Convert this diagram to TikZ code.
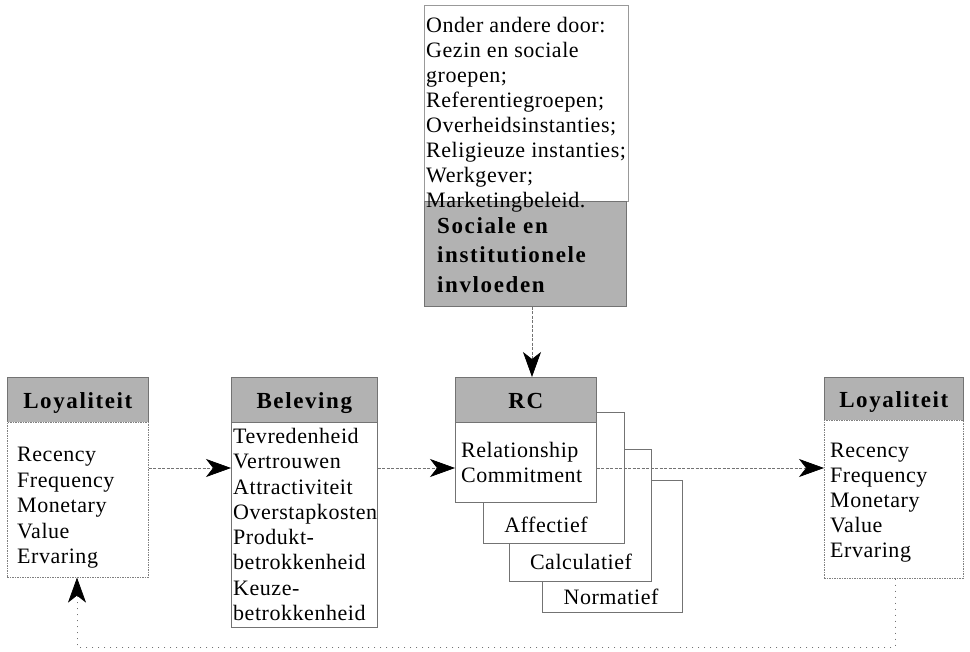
\documentclass[tikz,border=0pt]{standalone}
\usepackage{fontspec}
\setmainfont{Liberation Serif}[LetterSpace=2.5]
\newfontfamily\headfont{Liberation Serif}[LetterSpace=7]
\usetikzlibrary{arrows.meta}
\tikzset{
  frame/.style={draw=black!55, line width=0.6pt, fill=white, inner sep=0pt, anchor=north west},
  dotframe/.style={frame, draw=black!50, dash pattern=on 1.5pt off 1pt},
  headbox/.style={frame, fill=black!30, font=\headfont\bfseries\fontsize{23}{28}\selectfont,
                  text height=18pt, text depth=0pt},
  bodytext/.style={inner sep=0pt, anchor=north west, align=left,
                   font=\fontsize{22}{25}\selectfont},
  boldtext/.style={inner sep=0pt, anchor=north west, align=left,
                   font=\headfont\bfseries\fontsize{23}{29.5}\selectfont},
  layertext/.style={inner sep=0pt, anchor=base, font=\fontsize{22}{25}\selectfont},
  tip/.style={-{Stealth[length=25pt, width=18pt, inset=7pt, color=black]}},
  conn/.style={draw=black!55, line width=0.7pt, dash pattern=on 3pt off 1.5pt, tip},
  loopline/.style={draw=black!55, line width=0.7pt, dash pattern=on 1pt off 5pt, tip}
}
\begin{document}
\begin{tikzpicture}[x=1pt, y=-1pt]
\useasboundingbox[fill=white] (0,0) rectangle (970,652);

% helper coordinates for connector rows and columns
\coordinate (row) at (0,468);
\coordinate (down) at (532,0);
\coordinate (fbR) at (895,647);
\coordinate (fbL) at (77,647);

% social and institutional influences
\node[frame, draw=black!40, minimum width=204pt, minimum height=196pt] (door) at (424,5) {};
\node[frame, fill=black!30, minimum width=202pt, minimum height=105pt] (soc) at (424,201) {};
\node[bodytext] (doortxt) at (426,17) {Onder andere door:\\Gezin en sociale\\groepen;\\Referentiegroepen;\\Overheidsinstanties;\\Religieuze instanties;\\Werkgever;\\Marketingbeleid.};
\node[boldtext] (soctxt) at (437,217) {Sociale en\\institutionele\\invloeden};

% loyalty (start)
\node[headbox, minimum width=141pt, minimum height=45pt] (loyAh) at (7,377) {Loyaliteit};
\node[dotframe, minimum width=141pt, minimum height=155pt] (loyAb) at (7,422) {};
\node[bodytext, font=\fontsize{22}{25.5}\selectfont] (loyAtxt) at (17,447) {Recency\\Frequency\\Monetary\\Value\\Ervaring};

% experience
\node[headbox, minimum width=146pt, minimum height=45pt] (belh) at (231,377) {Beleving};
\node[frame, minimum width=146pt, minimum height=205pt] (belb) at (231,422) {};
\node[bodytext, font=\fontsize{22}{25.3}\selectfont] (beltxt) at (233,428) {Tevredenheid\\Vertrouwen\\Attractiviteit\\Overstapkosten\\Produkt-\\betrokkenheid\\Keuze-\\betrokkenheid};

% relationship commitment with its three layers
\node[frame, minimum width=140pt, minimum height=132pt] (norm) at (542,480) {};
\node[frame, minimum width=142pt, minimum height=132pt] (calc) at (509,449) {};
\node[frame, minimum width=141pt, minimum height=131pt] (affe) at (483,412) {};
\node[layertext] (affetxt) at (546,532) {Affectief};
\node[layertext] (calctxt) at (581,569) {Calculatief};
\node[layertext] (normtxt) at (611,604) {Normatief};
\node[headbox, minimum width=141pt, minimum height=45pt] (rch) at (455,377) {RC};
\node[frame, minimum width=141pt, minimum height=80pt] (rcb) at (455,422) {};
\node[bodytext] (rctxt) at (461,442) {Relationship\\Commitment};

% loyalty (result)
\node[headbox, minimum width=139pt, minimum height=43pt] (loyBh) at (824,377) {Loyaliteit};
\node[dotframe, minimum width=139pt, minimum height=158pt] (loyBb) at (824,420) {};
\node[bodytext] (loyBtxt) at (830,443) {Recency\\Frequency\\Monetary\\Value\\Ervaring};

% connectors
\draw[conn] (soc.south -| down) -- (rch.north -| down);
\draw[conn] (loyAb.east |- row) -- (belb.west |- row);
\draw[conn] (belb.east |- row) -- (rcb.west |- row);
\draw[conn] (rcb.east |- row) -- (loyBb.west |- row);
\draw[loopline] (loyBb.south -| fbR) -- (fbR) -- (fbL) -- (loyAb.south -| fbL);
\end{tikzpicture}
\end{document}
